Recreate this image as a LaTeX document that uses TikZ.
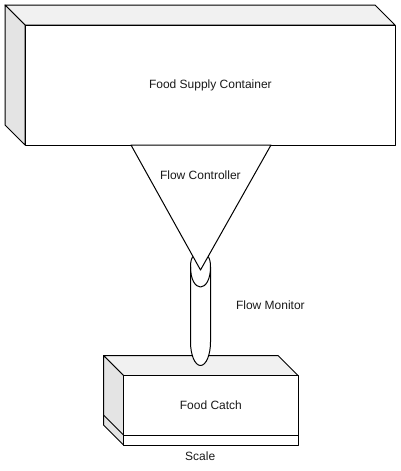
\documentclass[tikz,border=0pt]{standalone}
\usepackage{fontspec}
\setmainfont{Liberation Sans}
\definecolor{topface}{HTML}{F1F1F1}
\definecolor{sideface}{HTML}{E4E4E4}
\definecolor{ink}{HTML}{000000}
\definecolor{labelink}{HTML}{1A1A1A}
\tikzset{
  outline/.style={draw=ink,line width=1pt,line join=round},
  front/.style={outline,fill=white},
  topf/.style={outline,fill=topface},
  sidef/.style={outline,fill=sideface},
  lbl/.style={text=labelink,font=\fontsize{12}{14}\selectfont,inner sep=0pt,anchor=center}
}
\begin{document}
\begin{tikzpicture}[x=1pt,y=-1pt]
\useasboundingbox (0,0) rectangle (401,471);
% container
\draw[topf] (5,5) -- (375,5) -- (395,25) -- (25,25) -- cycle;
\draw[sidef] (5,5) -- (25,25) -- (25,145) -- (5,125) -- cycle;
\draw[front] (25,25) rectangle (395,145);
% catch
\draw[topf] (103.5,355.5) -- (278,355.5) -- (298,375.5) -- (123.5,375.5) -- cycle;
\draw[sidef] (103.5,355.5) -- (123.5,375.5) -- (123.5,445) -- (103.5,425) -- cycle;
\draw[outline] (103.5,415) -- (123.5,435);
\draw[front] (123.5,375.5) rectangle (298,435);
\draw[front] (123.5,435) rectangle (298,445);
% tube
\draw[front] (190.5,267) .. controls (190.5,255) and (195,254) .. (200.5,254)
  .. controls (206,254) and (210.5,255) .. (210.5,267)
  -- (210.5,342) .. controls (210.5,355) and (206,365.5) .. (200.5,365.5)
  .. controls (195,365.5) and (190.5,355) .. (190.5,342) -- cycle;
\draw[outline] (190.5,267) .. controls (190.5,279) and (195,287) .. (200.5,287)
  .. controls (206,287) and (210.5,279) .. (210.5,267);
% cone
\draw[front] (131,145) -- (271,145) -- (200.5,270) -- cycle;
% labels
\node[lbl] (container) at (210.4,85.5) {Food Supply Container};
\node[lbl] (controller) at (200.4,175.5) {Flow Controller};
\node[lbl] (monitor) at (270.4,305.5) {Flow Monitor};
\node[lbl] (catch) at (210.9,405.5) {Food Catch};
\node[lbl] (scale) at (200.2,456) {Scale};
\end{tikzpicture}
\end{document}
